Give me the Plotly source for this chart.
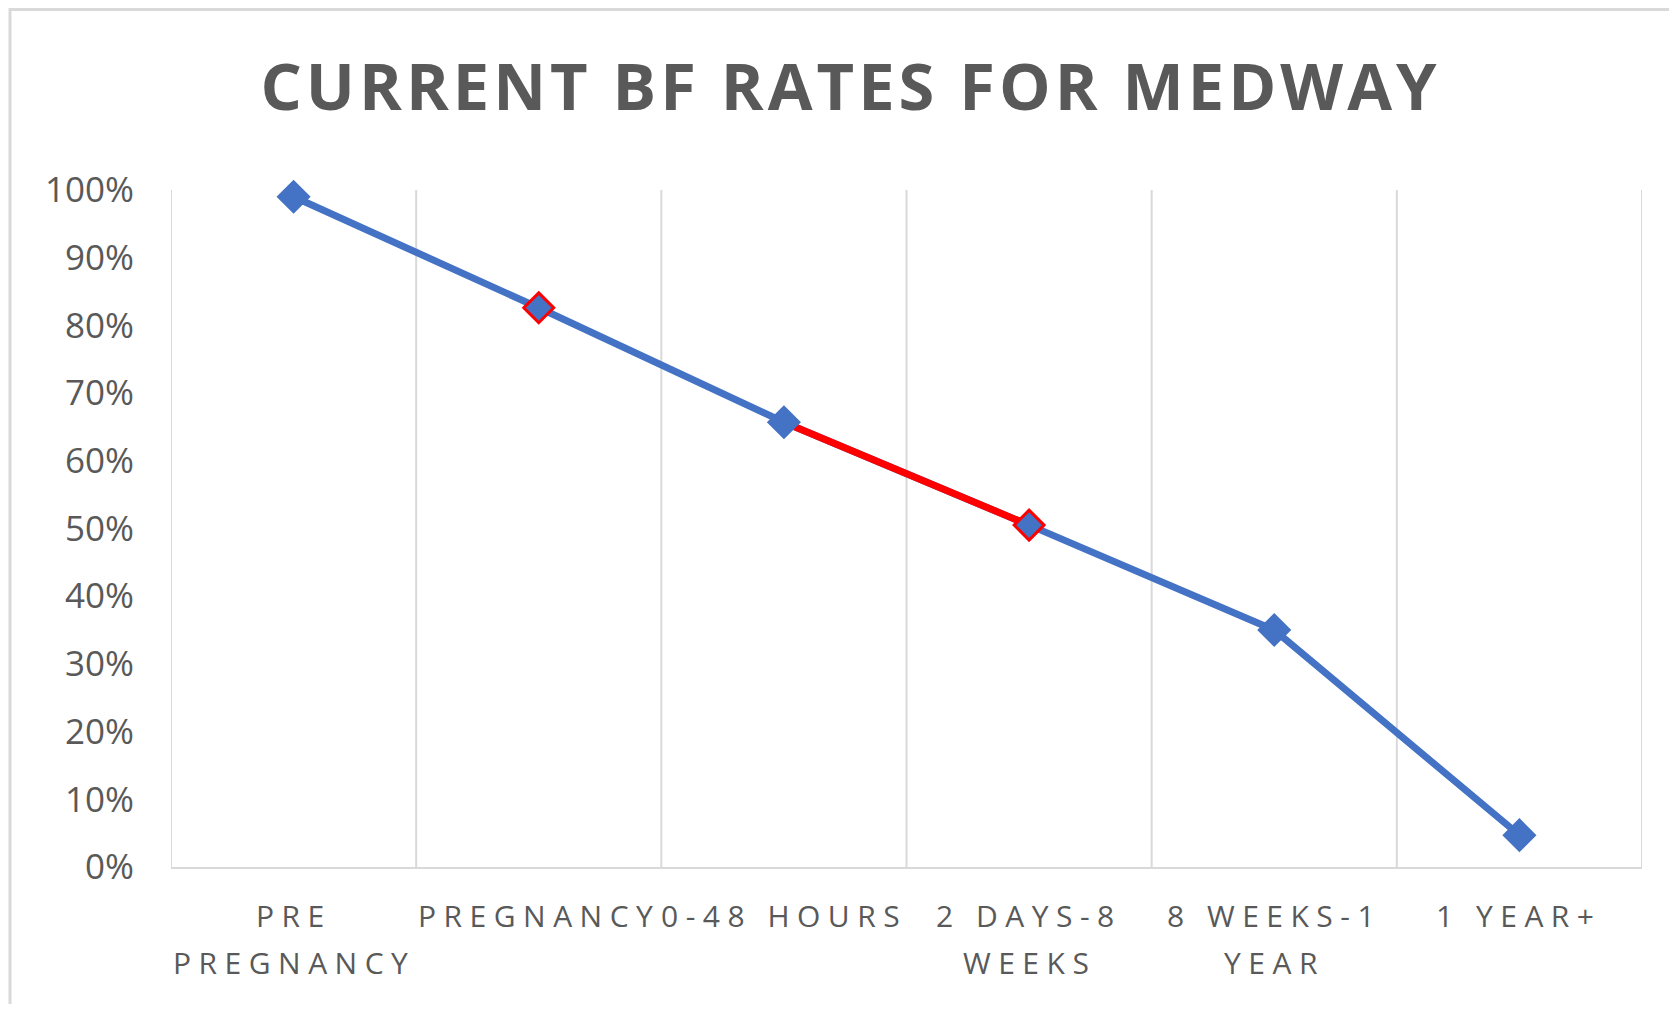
import plotly.graph_objects as go

categories = ["PRE<br>PREGNANCY", "PREGNANCY", "0-48 HOURS", "2 DAYS-8<br>WEEKS", "8 WEEKS-1<br>YEAR", "1 YEAR+"]
rates = [0.99, 0.826, 0.657, 0.505, 0.35, 0.047]
highlight_idx = [2, 3]          # red segment between these points
outline_red = [1, 3]            # points with red marker outline
y_ticks = [0, 0.1, 0.2, 0.3, 0.4, 0.5, 0.6, 0.7, 0.8, 0.9, 1.0]
y_ticktext = ["0%", "10%", "20%", "30%", "40%", "50%", "60%", "70%", "80%", "90%", "100%"]
title_text = "CURRENT BF RATES FOR MEDWAY"

BLUE = "#4472C4"
RED = "#FF0000"
GRID = "#D9D9D9"
TXT = "#595959"
FONT = "Open Sans"


def spaced(s, px):
    return f'<span style="letter-spacing:{px}px">{s}</span>'


x = list(range(len(categories)))
fig = go.Figure()
fig.add_trace(go.Scatter(x=x, y=rates, mode="lines",
                         line=dict(color=BLUE, width=7), hoverinfo="skip"))
fig.add_trace(go.Scatter(x=[x[i] for i in highlight_idx], y=[rates[i] for i in highlight_idx],
                         mode="lines", line=dict(color=RED, width=7), hoverinfo="skip"))
fig.add_trace(go.Scatter(x=x, y=rates, mode="markers", cliponaxis=False,
                         marker=dict(symbol="diamond", size=23, color=BLUE,
                                     line=dict(width=3, color=[RED if i in outline_red else BLUE for i in x]))))

# page body has an 8px margin; figure sized/placed to compensate
W, H = 1661, 996
L, R, T, B = 163, 27, 182, 137
pw, ph = W - L - R, H - T - B

fig.update_layout(
    width=W, height=H,
    margin=dict(l=L, r=R, t=T, b=B),
    paper_bgcolor="white", plot_bgcolor="white",
    showlegend=False,
    title=dict(text=spaced(title_text, 4), x=842.5 / W, xanchor="center", xref="container",
               y=1 - 79.5 / H, yanchor="middle", yref="container",
               font=dict(family=FONT, size=65, color=TXT, weight="bold")),
    xaxis=dict(
        type="linear", range=[-0.5, 5.5],
        tickmode="array", tickvals=x, ticktext=[""] * len(x),
        showgrid=False, zeroline=False,
        showline=True, linecolor=GRID, linewidth=2,
        ticks="",
    ),
    yaxis=dict(
        range=[0, 1], tickmode="array", tickvals=y_ticks, ticktext=y_ticktext,
        showgrid=False, zeroline=False, showline=False,
        ticks="", ticklabelstandoff=36,
        tickfont=dict(family=FONT, size=35, color=TXT),
    ),
)

# category labels (Excel-like wider line spacing), one annotation per text line
line_shift = [-25.5, -72.5]
for i, cat in enumerate(categories):
    for j, part in enumerate(cat.split("<br>")):
        fig.add_annotation(x=x[i], xref="x", y=0, yref="paper", yanchor="top", xanchor="center",
                           yshift=line_shift[j], showarrow=False, text=spaced(part, 7.5),
                           font=dict(family=FONT, size=30, color=TXT))

# vertical gridlines at category boundaries
for b in [k - 0.5 for k in range(len(categories) + 1)]:
    fig.add_shape(type="line", xref="x", yref="y", x0=b, x1=b, y0=0, y1=1,
                  line=dict(color=GRID, width=2), layer="below")

# outer chart border
fig.add_shape(type="rect", xref="paper", yref="paper",
              x0=-(L - 2) / pw, x1=1 + (R + 30) / pw, y0=-(B + 30) / ph, y1=1 + (T - 1.5) / ph,
              line=dict(color=GRID, width=3), fillcolor="rgba(0,0,0,0)", layer="below")

fig.write_html("out.html")
